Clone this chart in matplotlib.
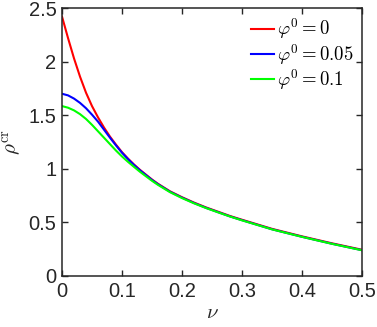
import matplotlib
matplotlib.use('Agg')
from matplotlib import pyplot as plt

# values
nu = [0, 0.01, 0.02, 0.03, 0.04, 0.05, 0.06, 0.07, 0.08, 0.09, 0.1,
      0.11, 0.12, 0.13, 0.14, 0.15, 0.16, 0.18, 0.2, 0.22, 0.24, 0.26,
      0.28, 0.3, 0.35, 0.4, 0.45, 0.5]
rho_phi0 = [2.42, 2.22, 2.03, 1.86, 1.71, 1.585, 1.48, 1.385, 1.30, 1.225, 1.155,
            1.095, 1.04, 0.99, 0.945, 0.90, 0.86, 0.79, 0.735, 0.685, 0.64, 0.60,
            0.56, 0.525, 0.44, 0.37, 0.305, 0.245]
rho_phi005 = [1.70, 1.685, 1.655, 1.615, 1.565, 1.505, 1.44, 1.365, 1.29, 1.218, 1.15,
              1.091, 1.036, 0.986, 0.941, 0.896, 0.856, 0.786, 0.731, 0.681, 0.636, 0.596,
              0.556, 0.521, 0.436, 0.366, 0.301, 0.241]
rho_phi01 = [1.585, 1.57, 1.545, 1.51, 1.465, 1.41, 1.35, 1.29, 1.23, 1.17, 1.115,
             1.065, 1.018, 0.972, 0.93, 0.888, 0.85, 0.782, 0.727, 0.678, 0.634, 0.594,
             0.555, 0.519, 0.435, 0.365, 0.30, 0.24]
labels = [r'$\varphi^0 = 0$', r'$\varphi^0 = 0.05$', r'$\varphi^0 = 0.1$']
colors = ['#ff0000', '#0000ff', '#00ff00']

xticks = [0, 0.1, 0.2, 0.3, 0.4, 0.5]
xticklabels = ['0', '0.1', '0.2', '0.3', '0.4', '0.5']
yticks = [0, 0.5, 1, 1.5, 2, 2.5]
yticklabels = ['0', '0.5', '1', '1.5', '2', '2.5']

plt.rcParams['font.family'] = ['Liberation Sans', 'DejaVu Sans']
plt.rcParams['mathtext.fontset'] = 'cm'

fig = plt.figure(figsize=(3.77, 3.27), dpi=100)
ax = fig.add_axes([0.1645, 0.156, 0.7955, 0.8195])

for y, c, lab in zip([rho_phi0, rho_phi005, rho_phi01], colors, labels):
    ax.plot(nu, y, color=c, lw=1.5, label=lab)

ax.set_xlim(0, 0.5)
ax.set_ylim(0, 2.5)
ax.set_xticks(xticks)
ax.set_xticklabels(xticklabels)
ax.set_yticks(yticks)
ax.set_yticklabels(yticklabels)

dark = '#262626'
ax.tick_params(direction='in', length=4, width=1, top=True, right=True,
               labelsize=14.5, colors=dark, pad=4)
for s in ax.spines.values():
    s.set_linewidth(1.1)
    s.set_color(dark)

ax.set_xlabel(r'$\nu$', fontsize=15, color=dark, labelpad=2)
ax.set_ylabel(r'$\rho^{\rm cr}$', fontsize=15, color=dark, labelpad=3)

leg = ax.legend(loc='upper right', frameon=False, fontsize=13.5,
                handlelength=1.2, handletextpad=0.15, labelspacing=0.02,
                borderaxespad=0.1, borderpad=0.2,
                bbox_to_anchor=(0.99, 0.99))

fig.savefig('out.png', dpi=100)
